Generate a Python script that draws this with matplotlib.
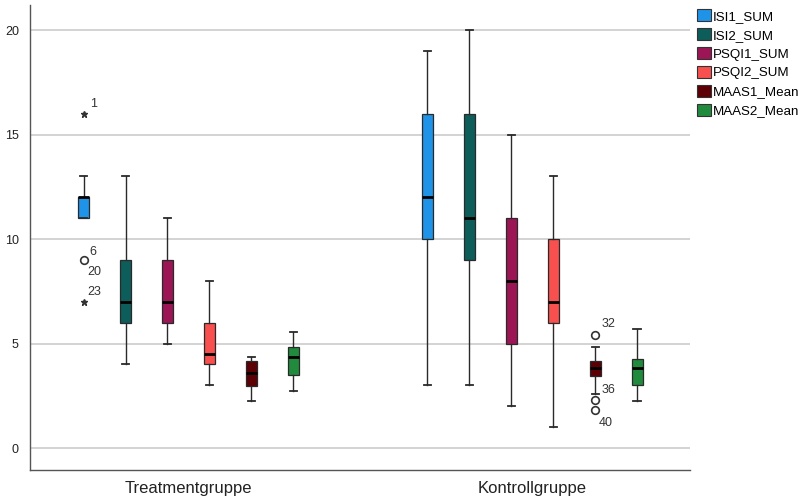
import numpy as np
import matplotlib.pyplot as plt
from matplotlib.patches import Patch

plt.rcParams['font.family'] = ['Liberation Sans', 'DejaVu Sans']

groups = ['Treatmentgruppe', 'Kontrollgruppe']
variables = ['ISI1_SUM', 'ISI2_SUM', 'PSQI1_SUM', 'PSQI2_SUM', 'MAAS1_Mean', 'MAAS2_Mean']
colors = ['#1f93e8', '#0d5d5b', '#9c1656', '#f84f4f', '#5c0006', '#218b3d']

# box statistics per group, one value per variable
lo_treat = [11, 4, 5, 3, 2.25, 2.71]
q1_treat = [11, 6, 6, 4, 2.97, 3.48]
med_treat = [12, 7, 7, 4.5, 3.57, 4.34]
q3_treat = [12, 9, 9, 6, 4.17, 4.85]
hi_treat = [13, 13, 11, 8, 4.37, 5.57]

lo_ctrl = [3, 3, 2, 1, 2.6, 2.25]
q1_ctrl = [10, 9, 5, 6, 3.43, 3.03]
med_ctrl = [12, 11, 8, 7, 3.84, 3.84]
q3_ctrl = [16, 16, 11, 10, 4.18, 4.24]
hi_ctrl = [19, 20, 15, 13, 4.85, 5.69]

# outliers: group, variable, value, marker, case labels
out_group = [0, 0, 0, 1, 1, 1]
out_var = [0, 0, 0, 4, 4, 4]
out_value = [16, 9, 7, 5.42, 2.3, 1.82]
out_marker = ['*', 'o', '*', 'o', 'o', 'o']
out_labels = [['1'], ['6', '20'], ['23'], ['32'], ['36'], ['40']]
# pixel offsets for the case labels
out_offsets = [[(6, 10)], [(6, 8), (4, -12)], [(4, 10)], [(6, 11)], [(6, 10)], [(4, -13)]]

stats_by_group = [
    (lo_treat, q1_treat, med_treat, q3_treat, hi_treat),
    (lo_ctrl, q1_ctrl, med_ctrl, q3_ctrl, hi_ctrl),
]

fig = plt.figure(figsize=(8.03, 4.97), dpi=100)
ax = fig.add_axes([30 / 803, 27 / 497, 660 / 803, 465 / 497])

step = 0.122
offsets = (np.arange(len(variables)) - 2.5) * step
box_w = 0.032

for gi, (lo, q1, med, q3, hi) in enumerate(stats_by_group):
    for vi in range(len(variables)):
        st = [dict(whislo=lo[vi], q1=q1[vi], med=med[vi], q3=q3[vi], whishi=hi[vi], fliers=[])]
        ax.bxp(st, positions=[gi + offsets[vi]], widths=box_w, patch_artist=True,
               showfliers=False,
               boxprops=dict(facecolor=colors[vi], edgecolor='#2a2a2a', linewidth=0.9),
               medianprops=dict(color='black', linewidth=2),
               whiskerprops=dict(color='#2a2a2a', linewidth=1.0),
               capprops=dict(color='#2a2a2a', linewidth=1.3),
               capwidths=box_w * 0.65)

for g, v, val, m, labs, offs in zip(out_group, out_var, out_value, out_marker, out_labels, out_offsets):
    x = g + offsets[v]
    if m == '*':
        ax.plot(x, val, marker='*', color='#333333', markersize=5, linestyle='none')
    else:
        ax.plot(x, val, marker='o', markerfacecolor='white', markeredgecolor='#333333',
                markeredgewidth=1.2, markersize=5.5, linestyle='none')
    for lab, (dx, dy) in zip(labs, offs):
        ax.annotate(lab, (x, val), xytext=(dx, dy), textcoords='offset pixels',
                    fontsize=9, color='#333333', ha='left', va='center')

ax.set_xlim(-0.461, 1.459)
ax.set_ylim(-1.05, 21.2)
ax.set_yticks([0, 5, 10, 15, 20])
ax.set_xticks([0, 1])
ax.set_xticklabels(groups, fontsize=12, color='#222222')
ax.tick_params(axis='x', length=0, pad=8)
ax.tick_params(axis='y', length=0, pad=8, labelsize=9, labelcolor='#222222')
ax.grid(axis='y', color='#cccccc', linewidth=1.2)
ax.set_axisbelow(True)
for side in ['top', 'right']:
    ax.spines[side].set_visible(False)
for side in ['left', 'bottom']:
    ax.spines[side].set_color('#555555')
    ax.spines[side].set_linewidth(1)

handles = [Patch(facecolor=c, edgecolor='#333333', linewidth=0.8) for c in colors]
fig.legend(handles, variables, loc='upper left', bbox_to_anchor=(688 / 803, 1.0),
           frameon=False, fontsize=9.6, handlelength=1.0, handleheight=1.0,
           handletextpad=0.15, labelspacing=0.4, borderaxespad=0.3)

fig.savefig('out.png', dpi=100)
